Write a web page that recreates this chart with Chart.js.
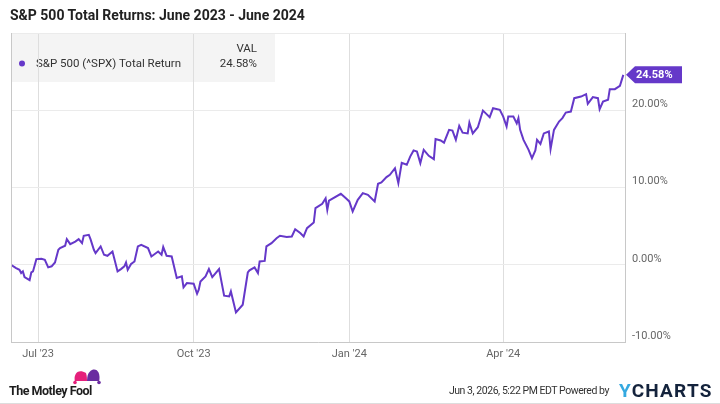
<!DOCTYPE html>
<html>
<head>
<meta charset="utf-8">
<script src="https://cdn.jsdelivr.net/npm/chart.js@4.4.1/dist/chart.umd.min.js"></script>
<style>
  body { margin: 0; background: #fff; font-family: Roboto, "Noto Sans", sans-serif; }
  #wrap { position: relative; width: 720px; height: 404px; overflow: hidden; }
  #chart { position: absolute; left: 0; top: 0; }
  .title { position: absolute; left: 10px; top: 7px; font-size: 14px; font-weight: bold; color: #222; }
  .stamp { position: absolute; right: 111px; top: 384px; font-size: 10.5px; color: #333; letter-spacing: -0.45px; }
  .ycharts { position: absolute; left: 619px; top: 379px; font-size: 19px; font-weight: bold; letter-spacing: 1.2px; color: #14233c; }
  .ycharts span { color: #35a9e0; }
  .fool { position: absolute; left: 9px; top: 383px; font-size: 12.5px; font-weight: bold; color: #1d1d1d; letter-spacing: -0.5px; }
  .hat { position: absolute; left: 71px; top: 367px; }
  .edge { position: absolute; left: 0; right: 0; bottom: 0; height: 1px; background: #ddd; }
</style>
</head>
<body>
<div id="wrap">
  <canvas id="chart" width="720" height="404"></canvas>
  <div class="title">S&amp;P 500 Total Returns: June 2023 - June 2024</div>
  <svg class="hat" width="32" height="19" viewBox="0 0 32 19">
    <path d="M4 15 C2 7 7 1 15 6 C16 9 16 12 16 15 Z" fill="#e5207b"/>
    <path d="M16 15 C16 9 17 5 21 3 C26 1 30 6 28 15 Z" fill="#6a2ca0"/>
    <rect x="4" y="14" width="24" height="3" fill="#fff"/>
    <circle cx="4" cy="15.5" r="1.8" fill="#e5207b"/>
    <circle cx="28" cy="15.5" r="1.8" fill="#6a2ca0"/>
  </svg>
  <div class="fool">The Motley Fool</div>
  <div class="stamp">Jun 3, 2026, 5:22 PM EDT Powered by</div>
  <div class="ycharts"><span>Y</span>CHARTS</div>
  <div class="edge"></div>
</div>
<script>
// S&P 500 (^SPX) total return, %
const dates = [
  '2023-06-15','2023-06-18','2023-06-20','2023-06-21','2023-06-22','2023-06-23','2023-06-26','2023-06-27','2023-06-28','2023-06-30',
  '2023-07-03','2023-07-05','2023-07-07','2023-07-09','2023-07-11','2023-07-13','2023-07-14','2023-07-17','2023-07-18','2023-07-20',
  '2023-07-23','2023-07-25','2023-07-27','2023-07-28','2023-07-31',
  '2023-08-01','2023-08-03','2023-08-04','2023-08-07','2023-08-09','2023-08-11','2023-08-14','2023-08-17','2023-08-19','2023-08-21',
  '2023-08-22','2023-08-23','2023-08-25','2023-08-27','2023-08-29','2023-08-31',
  '2023-09-04','2023-09-06','2023-09-10','2023-09-12','2023-09-13','2023-09-15','2023-09-18','2023-09-21','2023-09-24','2023-09-25','2023-09-27',
  '2023-10-01','2023-10-03','2023-10-04','2023-10-05','2023-10-08','2023-10-10','2023-10-12','2023-10-16','2023-10-19','2023-10-22',
  '2023-10-23','2023-10-26','2023-10-30',
  '2023-11-02','2023-11-03','2023-11-06','2023-11-08','2023-11-09','2023-11-12','2023-11-13','2023-11-16','2023-11-19','2023-11-21',
  '2023-11-25','2023-11-28','2023-11-30',
  '2023-12-03','2023-12-05','2023-12-07','2023-12-11','2023-12-12','2023-12-16','2023-12-18','2023-12-19','2023-12-20','2023-12-27','2023-12-30',
  '2024-01-01','2024-01-03','2024-01-06','2024-01-09','2024-01-12','2024-01-16','2024-01-18','2024-01-20','2024-01-23','2024-01-25',
  '2024-01-28','2024-01-30',
  '2024-02-01','2024-02-04','2024-02-06','2024-02-08','2024-02-10','2024-02-12','2024-02-14','2024-02-17','2024-02-20','2024-02-21',
  '2024-02-24','2024-02-26','2024-02-29',
  '2024-03-02','2024-03-04','2024-03-06','2024-03-08','2024-03-11','2024-03-12','2024-03-14','2024-03-17','2024-03-20','2024-03-22',
  '2024-03-24','2024-03-26','2024-03-30',
  '2024-04-01','2024-04-03','2024-04-04','2024-04-07','2024-04-09','2024-04-10','2024-04-11','2024-04-13','2024-04-16','2024-04-18',
  '2024-04-20','2024-04-21','2024-04-23','2024-04-25','2024-04-28','2024-04-29',
  '2024-05-01','2024-05-04','2024-05-06','2024-05-08','2024-05-11','2024-05-13','2024-05-17','2024-05-20','2024-05-21','2024-05-24',
  '2024-05-27','2024-05-28','2024-05-30',
  '2024-06-02','2024-06-03','2024-06-06','2024-06-09','2024-06-11'
];
const returns = [
  0.00, -0.43, -0.65, -1.07, -0.86, -1.60, -2.00, -1.00, -0.86, 0.73,
  0.78, 0.65, -0.34, -0.20, 0.30, 1.94, 2.16, 2.46, 3.32, 2.67,
  3.00, 3.32, 2.80, 3.75, 3.88,
  3.32, 1.94, 1.51, 2.37, 1.29, 1.16, 1.72, -0.86, -0.56, -0.20,
  0.30, -0.65, 0.10, 0.43, 2.37, 2.59,
  2.16, 1.07, 1.72, 1.29, 2.29, 1.16, 1.07, -1.72, -1.50, -2.93, -2.37,
  -2.45, -3.75, -3.23, -2.16, -1.50, -0.56, -1.60, -0.56, -4.00, -4.10,
  -3.45, -6.17, -5.17,
  -1.00, -0.73, -0.34, -1.07, 0.43, 0.50, 2.37, 2.80, 3.44, 3.75,
  3.58, 3.66, 4.60,
  4.10, 3.66, 4.74, 5.47, 7.33, 7.90, 8.60, 7.10, 8.30, 9.18, 8.60,
  8.20, 6.90, 8.40, 9.27, 9.05, 8.20, 10.48, 10.65, 11.35, 11.64,
  12.50, 10.57,
  13.20, 12.94, 14.00, 14.80, 14.66, 13.16, 14.88, 14.10, 13.67, 16.26,
  16.08, 15.80, 17.46,
  17.37, 16.17, 17.98, 17.10, 17.00, 18.40, 17.00, 17.80, 19.96, 19.53,
  19.10, 20.27, 20.05,
  19.18, 17.90, 19.18, 19.18, 18.30, 18.98, 17.46, 16.17, 14.88, 13.80,
  14.79, 16.17, 15.65, 17.00, 17.25, 14.97,
  17.46, 18.54, 18.98, 19.70, 19.83, 21.56, 21.77, 22.08, 20.83, 21.70,
  21.56, 20.14, 21.13,
  21.35, 22.73, 22.73, 23.16, 24.58
];
const xTickDates = ['2023-07-01', '2023-10-01', '2024-01-01', '2024-04-01'];
const xTickLabels = ["Jul '23", "Oct '23", "Jan '24", "Apr '24"];
const yTicks = [-10, 0, 10, 20];
const axisStart = '2023-06-15';
const axisEnd = '2024-06-12';

const purple = '#6538c9';
const dayNum = s => Date.parse(s + 'T00:00:00Z') / 86400000;
const points = dates.map((d, i) => ({ x: dayNum(d), y: returns[i] }));

// legend box, left frame line and end tag
const extras = {
  id: 'extras',
  beforeDraw(chart) {
    const ctx = chart.ctx;
    ctx.save();
    ctx.fillStyle = '#f4f4f4';
    ctx.fillRect(11, 33, 264, 49);
    ctx.fillStyle = purple;
    ctx.beginPath();
    ctx.arc(22, 63.5, 3, 0, Math.PI * 2);
    ctx.fill();
    ctx.fillStyle = '#333';
    ctx.font = '11.5px Roboto';
    ctx.textBaseline = 'middle';
    ctx.textAlign = 'left';
    ctx.fillText('S&P 500 (^SPX) Total Return', 36, 64);
    ctx.textAlign = 'right';
    ctx.fillText('VAL', 257, 49);
    ctx.fillText(returns[returns.length - 1].toFixed(2) + '%', 257, 64);
    ctx.restore();
  },
  afterDraw(chart) {
    const ctx = chart.ctx;
    const a = chart.chartArea;
    const last = returns[returns.length - 1];
    const y = chart.scales.y.getPixelForValue(last);
    const x0 = a.right + 1;
    ctx.save();
    ctx.strokeStyle = '#c8c8c8';
    ctx.lineWidth = 1;
    ctx.beginPath();
    ctx.moveTo(a.left + 0.5, a.top);
    ctx.lineTo(a.left + 0.5, a.bottom);
    ctx.stroke();
    ctx.fillStyle = purple;
    ctx.beginPath();
    ctx.moveTo(x0, y);
    ctx.lineTo(x0 + 9, y - 8.5);
    ctx.lineTo(x0 + 56, y - 8.5);
    ctx.lineTo(x0 + 56, y + 8.5);
    ctx.lineTo(x0 + 9, y + 8.5);
    ctx.closePath();
    ctx.fill();
    ctx.fillStyle = '#fff';
    ctx.font = 'bold 11px Roboto';
    ctx.textBaseline = 'middle';
    ctx.textAlign = 'left';
    ctx.fillText(last.toFixed(2) + '%', x0 + 10, y + 0.5);
    ctx.restore();
  }
};

new Chart(document.getElementById('chart'), {
  type: 'line',
  data: {
    datasets: [{
      label: 'S&P 500 (^SPX) Total Return',
      data: points,
      borderColor: purple,
      borderWidth: 2,
      pointRadius: 0,
      tension: 0,
      fill: false
    }]
  },
  options: {
    responsive: false,
    animation: false,
    events: [],
    layout: { padding: { top: 33, left: 11, right: 0, bottom: 0 } },
    plugins: { legend: { display: false }, tooltip: { enabled: false } },
    scales: {
      x: {
        type: 'linear',
        min: dayNum(axisStart),
        max: dayNum(axisEnd),
        afterFit: s => { s.height = 62; },
        afterBuildTicks: s => { s.ticks = xTickDates.map(d => ({ value: dayNum(d) })); },
        grid: { color: '#dedede', drawTicks: false },
        border: { display: true, color: '#c8c8c8' },
        ticks: {
          padding: 6,
          color: '#666',
          font: { family: 'Roboto', size: 11 },
          maxRotation: 0,
          autoSkip: false,
          callback: function (v) {
            const i = xTickDates.findIndex(d => dayNum(d) === v);
            return i >= 0 ? xTickLabels[i] : '';
          }
        }
      },
      y: {
        position: 'right',
        min: -10,
        max: 30,
        afterFit: s => { s.width = 95; },
        afterBuildTicks: s => { s.ticks = yTicks.concat([30]).map(v => ({ value: v })); },
        grid: { color: '#ebebeb', drawTicks: false },
        border: { display: true, color: '#c8c8c8' },
        ticks: {
          padding: 7,
          labelOffset: -6,
          color: '#666',
          font: { family: 'Roboto', size: 11 },
          callback: v => yTicks.includes(v) ? v.toFixed(2) + '%' : ''
        }
      }
    }
  },
  plugins: [extras]
});
</script>
</body>
</html>
